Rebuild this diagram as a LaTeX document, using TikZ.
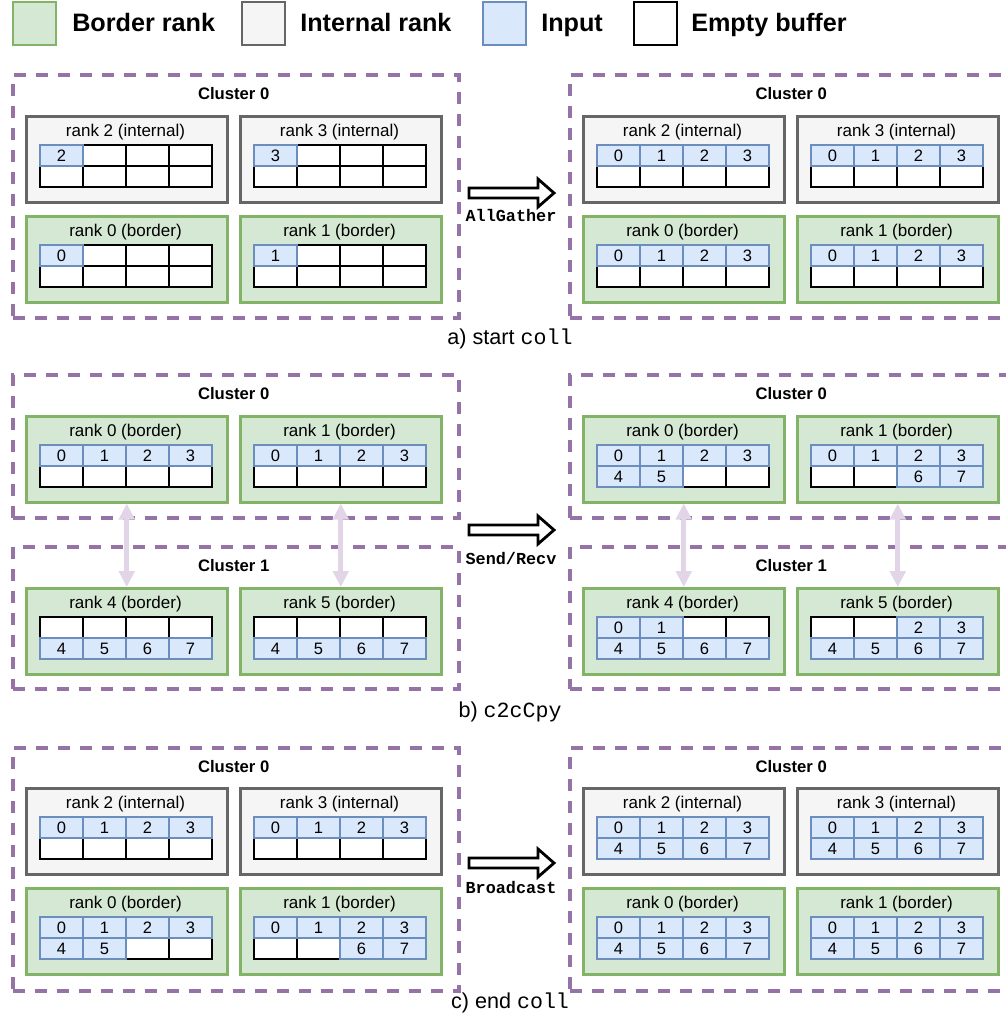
\documentclass[tikz,border=0pt]{standalone}
\usepackage{fontspec}
\setmainfont{Liberation Sans}
\setmonofont{Liberation Mono}
\usetikzlibrary{arrows.meta}
\definecolor{bfill}{HTML}{D5E8D4}
\definecolor{bline}{HTML}{82B366}
\definecolor{ifill}{HTML}{F5F5F5}
\definecolor{iline}{HTML}{666666}
\definecolor{infill}{HTML}{DAE8FC}
\definecolor{inpline}{HTML}{6C8EBF}
\definecolor{clline}{HTML}{9673A6}
\definecolor{linkc}{HTML}{E1D5E7}
\newcommand\rankbox[7]{%
  \node[#4] (#3) at (#1,#2) {};
  \node[ranklabel] (#3-t) at ({#1+100.5},{#2+21}) {#5};
  \foreach \v [count=\i] in {#6} {\ifnum\v<0 \node[emptycell] (#3-a\i) at ({#1+15+43*(\i-1)},{#2+30}) {};\fi}
  \foreach \v [count=\i] in {#7} {\ifnum\v<0 \node[emptycell] (#3-b\i) at ({#1+15+43*(\i-1)},{#2+51}) {};\fi}
  \foreach \v [count=\i] in {#6} {\ifnum\v<0 \else \node[inputcell] (#3-a\i) at ({#1+15+43*(\i-1)},{#2+30}) {\v};\fi}
  \foreach \v [count=\i] in {#7} {\ifnum\v<0 \else \node[inputcell] (#3-b\i) at ({#1+15+43*(\i-1)},{#2+51}) {\v};\fi}
}
\newcommand\blockarrow[3]{%
  \coordinate (#3) at (#1,#2);
  \draw[blockarr] (#3) ++(0,-5) -- ++(69,0) -- ++(0,-9) -- ++(16,14) -- ++(-16,14) -- ++(0,-9) -- ++(-69,0) -- cycle;
}
\begin{document}
\begin{tikzpicture}[x=0.75pt,y=-0.75pt,
  legbox/.style={anchor=north west, minimum width=32.25pt, minimum height=32.25pt, inner sep=0pt, line width=1.3pt},
  legtext/.style={anchor=base west, inner sep=0pt, font=\fontsize{18.9pt}{22pt}\selectfont\bfseries},
  cluster/.style={anchor=north west, minimum width=334.5pt, inner sep=0pt, draw=clline, line width=3pt, dash pattern=on 9pt off 7.5pt},
  clustertitle/.style={anchor=base, inner sep=0pt, font=\fontsize{12.5pt}{15pt}\selectfont\bfseries},
  rankbase/.style={anchor=north west, minimum width=150.75pt, minimum height=64.5pt, inner sep=0pt, line width=1.9pt},
  rankbd/.style={rankbase, draw=bline, fill=bfill},
  rankin/.style={rankbase, draw=iline, fill=ifill},
  ranklabel/.style={anchor=base, inner sep=0pt, font=\fontsize{12.75pt}{15pt}\selectfont},
  cellbase/.style={anchor=north west, minimum width=32.25pt, minimum height=15.75pt, inner sep=0pt, outer sep=0pt, font=\fontsize{12.4pt}{14pt}\selectfont},
  emptycell/.style={cellbase, draw=black, fill=white, line width=1pt},
  inputcell/.style={cellbase, draw=inpline, fill=infill, line width=1.8pt},
  link/.style={draw=linkc, line width=3.75pt, {Triangle[width=11.5pt,length=12pt]}-{Triangle[width=11.5pt,length=12pt]}},
  blockarr/.style={draw=black, fill=white, line width=2.1pt, line join=miter},
  oplabel/.style={anchor=base, inner sep=0pt, font=\fontsize{12.6pt}{14pt}\selectfont\ttfamily\bfseries},
  caption/.style={anchor=base, inner sep=0pt, font=\fontsize{16.2pt}{19pt}\selectfont}
]
\useasboundingbox (0,0) rectangle (1006,1026);
\clip (0,0) rectangle (1006,1026);
\fill[white] (0,0) rectangle (1006,1026);

% legend
\node[legbox, draw=bline, fill=bfill] (lg1) at (12,1) {};
\node[legtext] (lt1) at (72,31) {Border rank};
\node[legbox, draw=iline, fill=ifill] (lg2) at (241,1) {};
\node[legtext] (lt2) at (300,31) {Internal rank};
\node[legbox, draw=inpline, fill=infill] (lg3) at (482,1) {};
\node[legtext] (lt3) at (541,31) {Input};
\node[legbox, draw=black, fill=white, line width=1.6pt] (lg4) at (633,1) {};
\node[legtext] (lt4) at (691,31) {Empty buffer};

% ================= a) =================
\node[cluster, minimum height=182.25pt] (aL) at (10.7,73) {};
\node[clustertitle] (aL-t) at (233.7,99) {Cluster 0};
\rankbox{25}{115}{aL-r2}{rankin}{rank 2 (internal)}{2,-1,-1,-1}{-1,-1,-1,-1}
\rankbox{239}{115}{aL-r3}{rankin}{rank 3 (internal)}{3,-1,-1,-1}{-1,-1,-1,-1}
\rankbox{25}{215}{aL-r0}{rankbd}{rank 0 (border)}{0,-1,-1,-1}{-1,-1,-1,-1}
\rankbox{239}{215}{aL-r1}{rankbd}{rank 1 (border)}{1,-1,-1,-1}{-1,-1,-1,-1}

\node[cluster, minimum height=182.25pt] (aR) at (568.2,73) {};
\node[clustertitle] (aR-t) at (791.2,99) {Cluster 0};
\rankbox{582}{115}{aR-r2}{rankin}{rank 2 (internal)}{0,1,2,3}{-1,-1,-1,-1}
\rankbox{796}{115}{aR-r3}{rankin}{rank 3 (internal)}{0,1,2,3}{-1,-1,-1,-1}
\rankbox{582}{215}{aR-r0}{rankbd}{rank 0 (border)}{0,1,2,3}{-1,-1,-1,-1}
\rankbox{796}{215}{aR-r1}{rankbd}{rank 1 (border)}{0,1,2,3}{-1,-1,-1,-1}

\blockarrow{469}{193}{arrA}
\node[oplabel] (opA) at (511,221) {AllGather};
\node[caption] (capA) at (510,344) {a) start \texttt{coll}};

% ================= b) =================
\node[cluster, minimum height=107.25pt] (bL0) at (10.7,373) {};
\node[clustertitle] (bL0-t) at (233.7,399) {Cluster 0};
\node[cluster, minimum height=106.5pt] (bL1) at (10.7,545) {};
\node[clustertitle] (bL1-t) at (233.7,571) {Cluster 1};
\rankbox{25}{415}{bL-r0}{rankbd}{rank 0 (border)}{0,1,2,3}{-1,-1,-1,-1}
\rankbox{239}{415}{bL-r1}{rankbd}{rank 1 (border)}{0,1,2,3}{-1,-1,-1,-1}
\rankbox{25}{587}{bL-r4}{rankbd}{rank 4 (border)}{-1,-1,-1,-1}{4,5,6,7}
\rankbox{239}{587}{bL-r5}{rankbd}{rank 5 (border)}{-1,-1,-1,-1}{4,5,6,7}

\node[cluster, minimum height=107.25pt] (bR0) at (568.2,373) {};
\node[clustertitle] (bR0-t) at (791.2,399) {Cluster 0};
\node[cluster, minimum height=106.5pt] (bR1) at (568.2,545) {};
\node[clustertitle] (bR1-t) at (791.2,571) {Cluster 1};
\rankbox{582}{415}{bR-r0}{rankbd}{rank 0 (border)}{0,1,2,3}{4,5,-1,-1}
\rankbox{796}{415}{bR-r1}{rankbd}{rank 1 (border)}{0,1,2,3}{-1,-1,6,7}
\rankbox{582}{587}{bR-r4}{rankbd}{rank 4 (border)}{0,1,-1,-1}{4,5,6,7}
\rankbox{796}{587}{bR-r5}{rankbd}{rank 5 (border)}{-1,-1,2,3}{4,5,6,7}

\draw[link] (bL-r0.south) -- (bL-r4.north);
\draw[link] (bL-r1.south) -- (bL-r5.north);
\draw[link] (bR-r0.south) -- (bR-r4.north);
\draw[link] (bR-r1.south) -- (bR-r5.north);

\blockarrow{469}{530}{arrB}
\node[oplabel] (opB) at (511,564) {Send/Recv};
\node[caption] (capB) at (510,717) {b) \texttt{c2cCpy}};

% ================= c) =================
\node[cluster, minimum height=182.25pt] (cL) at (10.7,746) {};
\node[clustertitle] (cL-t) at (233.7,772) {Cluster 0};
\rankbox{25}{787}{cL-r2}{rankin}{rank 2 (internal)}{0,1,2,3}{-1,-1,-1,-1}
\rankbox{239}{787}{cL-r3}{rankin}{rank 3 (internal)}{0,1,2,3}{-1,-1,-1,-1}
\rankbox{25}{887}{cL-r0}{rankbd}{rank 0 (border)}{0,1,2,3}{4,5,-1,-1}
\rankbox{239}{887}{cL-r1}{rankbd}{rank 1 (border)}{0,1,2,3}{-1,-1,6,7}

\node[cluster, minimum height=182.25pt] (cR) at (568.2,746) {};
\node[clustertitle] (cR-t) at (791.2,772) {Cluster 0};
\rankbox{582}{787}{cR-r2}{rankin}{rank 2 (internal)}{0,1,2,3}{4,5,6,7}
\rankbox{796}{787}{cR-r3}{rankin}{rank 3 (internal)}{0,1,2,3}{4,5,6,7}
\rankbox{582}{887}{cR-r0}{rankbd}{rank 0 (border)}{0,1,2,3}{4,5,6,7}
\rankbox{796}{887}{cR-r1}{rankbd}{rank 1 (border)}{0,1,2,3}{4,5,6,7}

\blockarrow{469}{863}{arrC}
\node[oplabel] (opC) at (511,893) {Broadcast};
\node[caption] (capC) at (510,1008) {c) end \texttt{coll}};
\end{tikzpicture}
\end{document}
